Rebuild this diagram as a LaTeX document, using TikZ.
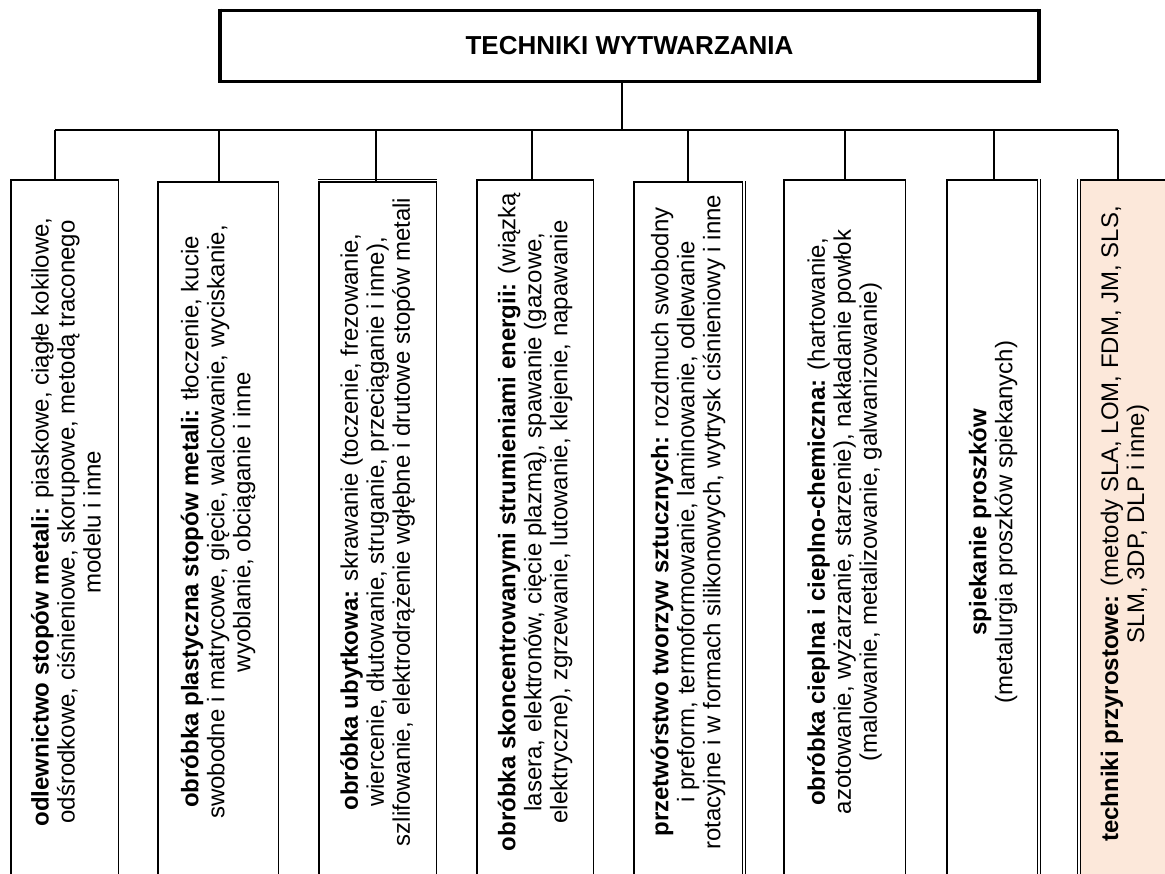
\documentclass[tikz,border=0pt]{standalone}
\usepackage{fontspec}
\setmainfont{Liberation Sans}
\definecolor{peach}{RGB}{252,232,218}
\begin{document}
\begin{tikzpicture}[x=1pt,y=-1pt,
  colbox/.style={draw, line width=1.5pt, minimum height=760pt, anchor=north, inner sep=0pt},
  coltext/.style={rotate=90, align=center, inner sep=0pt, font=\fontsize{24}{26}\selectfont},
  link/.style={line width=1.3pt},
  buslink/.style={line width=1.8pt},
  twin/.style={line width=0.7pt}]
\useasboundingbox (0,0) rectangle (1165,874);
\clip (0,0) rectangle (1165,874);

% title
\node[draw, line width=3pt, minimum width=820pt, minimum height=71.5pt, inner sep=0pt,
      font=\fontsize{26}{30}\selectfont\bfseries] (title) at (629.5,46) {TECHNIKI WYTWARZANIA};
\draw[twin] ([xshift=3.4pt]title.north west) -- ([xshift=3.4pt]title.south west);
\draw[twin] ([xshift=-3.4pt]title.north east) -- ([xshift=-3.4pt]title.south east);

% column boxes
\node[colbox, minimum width=107.5pt] (b1) at (64.5,179.2) {};
\node[colbox, minimum width=120.5pt] (b2) at (218,181.2) {};
\node[colbox, minimum width=117.5pt] (b3) at (377.5,181.2) {};
\node[colbox, minimum width=116.5pt] (b4) at (535,179.2) {};
\node[colbox, minimum width=108.5pt] (b5) at (688,181.2) {};
\node[colbox, minimum width=121.5pt] (b6) at (844.5,179.2) {};
\node[colbox, minimum width=90.5pt] (b7) at (992,179.2) {};
\node[colbox, fill=peach, minimum width=119.5pt] (b8) at (1140.25,179.2) {};

\draw[twin] ([yshift=2.2pt]b3.north west) -- ([yshift=2.2pt]b3.north east);
\draw[twin] ([xshift=2.3pt]b5.north east) -- ([xshift=2.3pt]b5.south east);
\draw[twin] ([xshift=2.3pt]b7.north east) -- ([xshift=2.3pt]b7.south east);
\draw[twin] ([xshift=-2.3pt]b8.north west) -- ([xshift=-2.3pt]b8.south west);

% texts
\node[coltext] (t1) at (66,522) {\textbf{odlewnictwo stopów metali:} piaskowe, ciągłe kokilowe,\\odśrodkowe, ciśnieniowe, skorupowe, metodą traconego\\modelu i inne};
\node[coltext] (t2) at (218,522) {\textbf{obróbka plastyczna stopów metali:} tłoczenie, kucie\\swobodne i matrycowe, gięcie, walcowanie, wyciskanie,\\wyoblanie, obciąganie i inne};
\node[coltext] (t3) at (377.5,522) {\textbf{obróbka ubytkowa:} skrawanie (toczenie, frezowanie,\\wiercenie, dłutowanie, struganie, przeciąganie i inne),\\szlifowanie, elektrodrążenie wgłębne i drutowe stopów metali};
\node[coltext] (t4) at (535,522) {\textbf{obróbka skoncentrowanymi strumieniami energii:} (wiązką\\lasera, elektronów, cięcie plazmą), spawanie (gazowe,\\elektryczne), zgrzewanie, lutowanie, klejenie, napawanie};
\node[coltext] (t5) at (688,522) {\textbf{przetwórstwo tworzyw sztucznych:} rozdmuch swobodny\\i preform, termoformowanie, laminowanie, odlewanie\\rotacyjne i w formach silikonowych, wytrysk ciśnieniowy i inne};
\node[coltext] (t6) at (844.5,522) {\textbf{obróbka cieplna i cieplno-chemiczna:} (hartowanie,\\azotowanie, wyżarzanie, starzenie), nakładanie powłok\\(malowanie, metalizowanie, galwanizowanie)};
\node[coltext] (t7) at (993,522) {\textbf{spiekanie proszków}\\(metalurgia proszków spiekanych)};
\node[coltext] (t8) at (1125,524) {\textbf{techniki przyrostowe:} (metody SLA, LOM, FDM, JM, SLS,\\SLM, 3DP, DLP i inne)};

% connectors
\coordinate (hub) at (622,130);
\coordinate (c1) at (55,130);
\coordinate (c2) at (219,130);
\coordinate (c3) at (376,130);
\coordinate (c4) at (532,130);
\coordinate (c5) at (688,130);
\coordinate (c6) at (845,130);
\coordinate (c7) at (994,130);
\coordinate (c8) at (1118,130);
\draw[link] (title.south -| hub) -- (hub);
\draw[buslink] (c1) -- (c8);
\foreach \i in {1,...,8}{
  \draw[link] (c\i) -- (b\i.north -| c\i);
}
\end{tikzpicture}
\end{document}
